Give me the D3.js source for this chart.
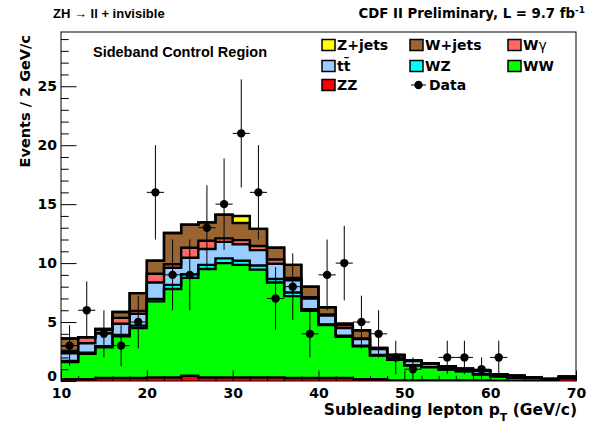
<!DOCTYPE html>
<html>
<head>
<meta charset="utf-8">
<script src="https://cdn.jsdelivr.net/npm/d3@7/dist/d3.min.js"></script>
<style>
  body { margin: 0; background: #fff; }
  svg { display: block; }
</style>
</head>
<body>
<script>
// Subleading lepton pT, 2 GeV/c bins from 10 to 70
const binLow = [10, 12, 14, 16, 18, 20, 22, 24, 26, 28, 30, 32, 34, 36, 38,
                40, 42, 44, 46, 48, 50, 52, 54, 56, 58, 60, 62, 64, 66, 68];
const binWidth = 2;

// Expected events per bin for each background process
const zz     = [0.15, 0.15, 0.25, 0.25, 0.25, 0.30, 0.30, 0.45, 0.30, 0.30, 0.30, 0.30, 0.30, 0.25, 0.25,
                0.25, 0.25, 0.15, 0.15, 0.05, 0.05, 0.05, 0.05, 0.05, 0.05, 0.03, 0.03, 0.03, 0.03, 0.22];
const ww     = [1.45, 2.15, 2.60, 3.55, 4.25, 6.45, 7.50, 8.30, 9.20, 9.70, 9.55, 9.15, 8.05, 6.95, 5.70,
                4.50, 3.50, 2.80, 2.00, 1.75, 1.25, 1.12, 0.92, 0.77, 0.50, 0.35, 0.24, 0.22, 0.05, 0.05];
const wz     = [0.10, 0.10, 0.10, 0.10, 0.20, 0.20, 0.35, 0.30, 0.35, 0.40, 0.35, 0.35, 0.30, 0.30, 0.15,
                0.05, 0.10, 0.05, 0.05, 0.05, 0.05, 0.03, 0.03, 0.03, 0.05, 0.02, 0.03, 0.02, 0.00, 0.00];
const ttbar  = [0.65, 0.80, 1.10, 0.95, 1.00, 1.40, 1.45, 1.40, 1.35, 1.40, 1.40, 1.30, 1.30, 1.05, 0.90,
                0.75, 0.65, 0.55, 0.50, 0.30, 0.35, 0.28, 0.22, 0.18, 0.27, 0.15, 0.15, 0.05, 0.10, 0.10];
const wgamma = [0.20, 0.50, 0.30, 0.50, 0.25, 0.75, 0.30, 0.85, 0.70, 0.30, 0.35, 0.35, 0.35, 0.20, 0.10,
                0.10, 0.25, 0.05, 0.05, 0.05, 0.02, 0.02, 0.02, 0.02, 0.02, 0.02, 0.00, 0.00, 0.00, 0.00];
const wjets  = [1.05, 0.02, 0.07, 0.50, 1.50, 1.10, 2.65, 1.95, 1.55, 2.00, 1.45, 1.45, 1.00, 1.10, 0.90,
                0.60, 0.10, 0.70, 0.05, 0.02, 0.02, 0.01, 0.00, 0.00, 0.00, 0.00, 0.00, 0.00, 0.00, 0.00];
const zjets  = [0.00, 0.00, 0.00, 0.00, 0.00, 0.00, 0.00, 0.00, 0.00, 0.00, 0.60, 0.00, 0.00, 0.00, 0.00,
                0.00, 0.00, 0.00, 0.00, 0.00, 0.00, 0.00, 0.00, 0.00, 0.00, 0.00, 0.00, 0.00, 0.00, 0.00];

// Observed events per bin
const observed = [3, 6, 4, 3, 5, 16, 9, 9, 13, 15, 21, 16, 7, 8, 4,
                  9, 10, 5, 4, 2, 1, 0, 2, 2, 1, 2, 0, 0, 0, 0];

// Stack order, bottom to top
const processKeys = ["ZZ", "WW", "WZ", "tt", "Wg", "Wjets", "Zjets"];
const processData = [zz, ww, wz, ttbar, wgamma, wjets, zjets];
const processColor = ["#ff0000", "#00ff00", "#00ffff", "#99ccff", "#ff6666", "#996633", "#ffff00"];

// Axis ticks
const xMajorTicks = [10, 20, 30, 40, 50, 60, 70];
const xMinorTicks = [12, 14, 16, 18, 22, 24, 26, 28, 32, 34, 36, 38, 42, 44, 46, 48, 52, 54, 56, 58, 62, 64, 66, 68];
const yMajorTicks = [0, 5, 10, 15, 20, 25];
const yMinorTicks = [1, 2, 3, 4, 6, 7, 8, 9, 11, 12, 13, 14, 16, 17, 18, 19, 21, 22, 23, 24, 26, 27, 28, 29];

const W = 595, H = 427;
const frame = { left: 61, top: 32, right: 576, bottom: 381 };

const x = d3.scaleLinear().domain([10, 70]).range([frame.left, frame.right]);
const y = d3.scaleLinear().domain([0, 29.6]).range([frame.bottom, frame.top]);

const svg = d3.select("body").append("svg")
  .attr("width", W).attr("height", H)
  .attr("viewBox", `0 0 ${W} ${H}`);

svg.append("rect").attr("width", W).attr("height", H).attr("fill", "#fff");

svg.append("defs").append("clipPath").attr("id", "plotclip")
  .append("rect")
  .attr("x", frame.left).attr("y", frame.top)
  .attr("width", frame.right - frame.left).attr("height", frame.bottom - frame.top);

// Build rows for the stack
const rows = binLow.map((lo, i) => {
  const r = { lo };
  processKeys.forEach((k, j) => { r[k] = processData[j][i]; });
  return r;
});
const stacked = d3.stack().keys(processKeys)(rows);

// Each cumulative histogram is drawn as a filled step shape from zero
function stepPoints(series) {
  const pts = series.map(d => ({ edge: d.data.lo, v: d[1] }));
  pts.push({ edge: binLow[binLow.length - 1] + binWidth, v: series[series.length - 1][1] });
  return pts;
}
const area = d3.area()
  .x(d => x(d.edge)).y0(y(0)).y1(d => y(d.v))
  .curve(d3.curveStepAfter);
const outline = d3.line()
  .x(d => x(d.edge)).y(d => y(d.v))
  .curve(d3.curveStepAfter);

const histG = svg.append("g").attr("clip-path", "url(#plotclip)");
const layersTopDown = stacked.slice().reverse();

layersTopDown.forEach(s => {
  const idx = processKeys.indexOf(s.key);
  histG.append("path")
    .attr("d", area(stepPoints(s)))
    .attr("fill", processColor[idx])
    .attr("stroke", "none");
});
layersTopDown.forEach(s => {
  histG.append("path")
    .attr("d", outline(stepPoints(s)))
    .attr("fill", "none")
    .attr("stroke", "#000")
    .attr("stroke-width", 2.4);
});

// Axes (ticks point into the frame)
const tickFont = "'DejaVu Sans', sans-serif";

const yAxisMajor = svg.append("g").attr("transform", `translate(${frame.left},0)`)
  .call(d3.axisLeft(y).tickValues(yMajorTicks).tickSizeInner(-15.5).tickSizeOuter(0).tickPadding(4));
const yAxisMinor = svg.append("g").attr("transform", `translate(${frame.left},0)`)
  .call(d3.axisLeft(y).tickValues(yMinorTicks).tickSizeInner(-7.7).tickSizeOuter(0).tickFormat(""));
const xAxisMajor = svg.append("g").attr("transform", `translate(0,${frame.bottom})`)
  .call(d3.axisBottom(x).tickValues(xMajorTicks).tickSizeInner(-10.5).tickSizeOuter(0).tickPadding(7));
const xAxisMinor = svg.append("g").attr("transform", `translate(0,${frame.bottom})`)
  .call(d3.axisBottom(x).tickValues(xMinorTicks).tickSizeInner(-5.2).tickSizeOuter(0).tickFormat(""));

[yAxisMajor, yAxisMinor, xAxisMajor, xAxisMinor].forEach(g => {
  g.select(".domain").remove();
  g.selectAll(".tick line").attr("stroke", "#000").attr("stroke-width", 1);
  g.selectAll(".tick text")
    .attr("fill", "#000")
    .style("font-family", tickFont)
    .style("font-weight", "bold")
    .style("font-size", "14px");
});
// the zero label sits a little above the corner so it clears the "10" below it
yAxisMajor.selectAll(".tick text").filter(d => d === 0).attr("dy", "-0.05em");

// Frame
svg.append("rect")
  .attr("x", frame.left).attr("y", frame.top)
  .attr("width", frame.right - frame.left).attr("height", frame.bottom - frame.top)
  .attr("fill", "none").attr("stroke", "#000").attr("stroke-width", 1);

// Observed data with Poisson error bars
const dataG = svg.append("g").attr("clip-path", "url(#plotclip)");
const obsRows = binLow.map((lo, i) => ({ lo, n: observed[i] })).filter(d => d.n > 0);

dataG.selectAll("line.ey").data(obsRows).join("line")
  .attr("class", "ey")
  .attr("x1", d => x(d.lo + binWidth / 2)).attr("x2", d => x(d.lo + binWidth / 2))
  .attr("y1", d => y(Math.max(0, d.n - Math.sqrt(d.n))))
  .attr("y2", d => y(d.n + Math.sqrt(d.n)))
  .attr("stroke", "#000").attr("stroke-width", 1);
dataG.selectAll("line.ex").data(obsRows).join("line")
  .attr("class", "ex")
  .attr("x1", d => x(d.lo)).attr("x2", d => x(d.lo + binWidth))
  .attr("y1", d => y(d.n)).attr("y2", d => y(d.n))
  .attr("stroke", "#000").attr("stroke-width", 1);
dataG.selectAll("circle").data(obsRows).join("circle")
  .attr("cx", d => x(d.lo + binWidth / 2))
  .attr("cy", d => y(d.n))
  .attr("r", 4.2)
  .attr("fill", "#000");

// Axis titles
svg.append("text")
  .attr("transform", `translate(30,${frame.top + 3}) rotate(-90)`)
  .attr("text-anchor", "end")
  .style("font-family", tickFont).style("font-weight", "bold").style("font-size", "14.5px")
  .text("Events / 2 GeV/c");

const xTitle = svg.append("text")
  .attr("x", frame.right + 1).attr("y", 415)
  .attr("text-anchor", "end")
  .style("font-family", tickFont).style("font-weight", "bold").style("font-size", "15.5px");
xTitle.append("tspan").text("Subleading lepton p");
xTitle.append("tspan").attr("dy", 6).style("font-size", "11px").text("T");
xTitle.append("tspan").attr("dy", -6).text(" (GeV/c)");

// Header texts
svg.append("text")
  .attr("x", 53).attr("y", 18)
  .style("font-family", "'Liberation Sans', Arial, sans-serif")
  .style("font-weight", "bold").style("font-size", "13px")
  .text("ZH \u2192 ll + invisible");

const lumi = svg.append("text")
  .attr("x", 585).attr("y", 18).attr("text-anchor", "end")
  .style("font-family", tickFont).style("font-weight", "bold").style("font-size", "13.3px");
lumi.append("tspan").text("CDF II Preliminary, L = 9.7 fb");
lumi.append("tspan").attr("dy", -5).style("font-size", "9px").text("-1");

svg.append("text")
  .attr("x", 93).attr("y", 57)
  .style("font-family", "'Liberation Sans', Arial, sans-serif")
  .style("font-weight", "bold").style("font-size", "14.5px")
  .text("Sideband Control Region");

// Legend
const legendLabels = ["Z+jets", "W+jets", "W\u03b3", "t t\u0304", "WZ", "WW", "ZZ"];
const legendKeys   = ["Zjets", "Wjets", "Wg", "tt", "WZ", "WW", "ZZ"];
const legendCols = [322, 410, 508];
const legendRows = [45, 66, 85];
const legG = svg.append("g");

legendKeys.forEach((k, i) => {
  const cx = legendCols[i % 3], cy = legendRows[Math.floor(i / 3)];
  const color = processColor[processKeys.indexOf(k)];
  legG.append("rect")
    .attr("x", cx).attr("y", cy - 5.5).attr("width", 13).attr("height", 11)
    .attr("fill", color).attr("stroke", "#000").attr("stroke-width", 1.5);
  const t = legG.append("text")
    .attr("x", cx + 15).attr("y", cy + 5)
    .style("font-family", tickFont).style("font-weight", "bold").style("font-size", "14px");
  if (k === "Wg") {
    t.append("tspan").text("W");
    t.append("tspan").style("font-weight", "normal").text("\u03b3");
  } else if (k === "tt") {
    t.append("tspan").text("t");
    t.append("tspan").text("t\u0304");
  } else {
    t.text(legendLabels[i]);
  }
});

// Data entry in legend
const dataEntryX = legendCols[1], dataEntryY = legendRows[2];
legG.append("line")
  .attr("x1", dataEntryX + 1).attr("x2", dataEntryX + 16)
  .attr("y1", dataEntryY).attr("y2", dataEntryY)
  .attr("stroke", "#000").attr("stroke-width", 1);
legG.append("circle")
  .attr("cx", dataEntryX + 8.5).attr("cy", dataEntryY).attr("r", 4.2).attr("fill", "#000");
legG.append("text")
  .attr("x", dataEntryX + 19).attr("y", dataEntryY + 5)
  .style("font-family", tickFont).style("font-weight", "bold").style("font-size", "14px")
  .text("Data");
</script>
</body>
</html>
